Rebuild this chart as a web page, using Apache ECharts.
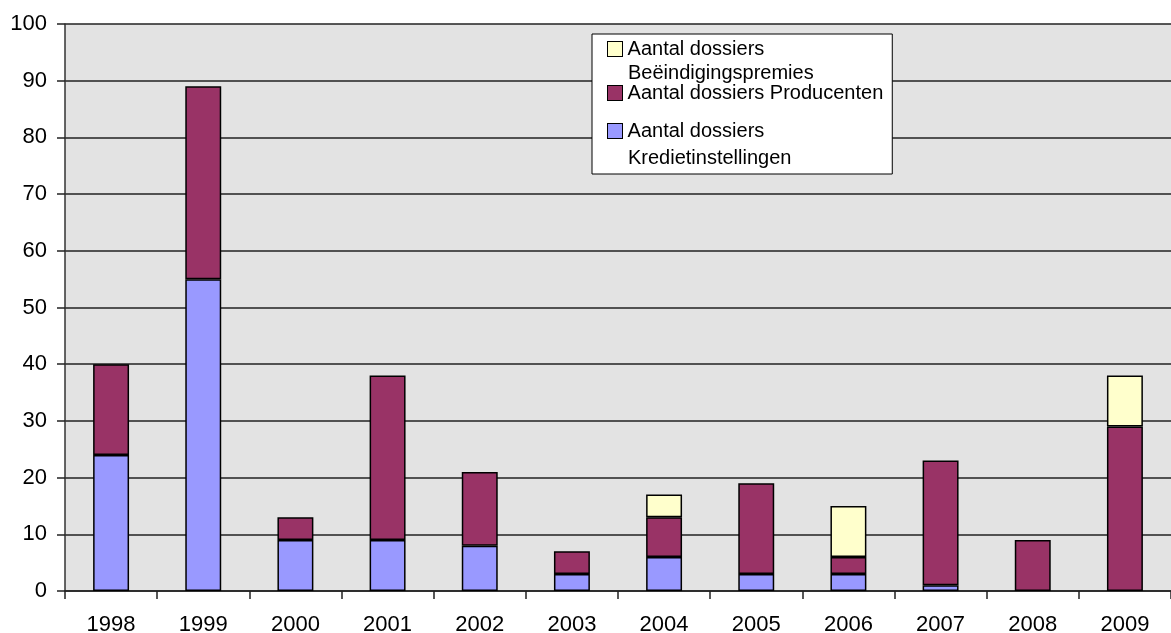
<!DOCTYPE html>
<html>
<head>
<meta charset="utf-8">
<script src="https://cdn.jsdelivr.net/npm/echarts@6/dist/echarts.min.js"></script>
<style>
html,body{margin:0;padding:0;background:#fff;}
#chart{width:1171px;height:633px;}
</style>
</head>
<body>
<div id="chart"></div>
<script>
var categories = ['1998','1999','2000','2001','2002','2003','2004','2005','2006','2007','2008','2009'];
var kredietinstellingen = [24, 55, 9, 9, 8, 3, 6, 3, 3, 1, null, null];
var producenten = [16, 34, 4, 29, 13, 4, 7, 16, 3, 22, 9, 29];
var beeindigingspremies = [null, null, null, null, null, null, 4, null, 9, null, null, 9];
var yTicks = [0, 100, 10];

var nameK = 'Aantal dossiers Kredietinstellingen';
var nameP = 'Aantal dossiers Producenten';
var nameB = 'Aantal dossiers Beëindigingspremies';

var FONT = '"Liberation Sans", Arial, sans-serif';
var chart = echarts.init(document.getElementById('chart'));

function barStyle(c){
  return {color: c, borderColor: '#000', borderWidth: 1.5};
}

chart.setOption({
  animation: false,
  backgroundColor: '#fff',
  grid: {left: 65, right: 0, top: 24, bottom: 42, show: true, backgroundColor: '#e3e3e3', borderWidth: 0, containLabel: false, outerBoundsMode: 'none'},
  legend: {
    orient: 'vertical',
    left: 592, top: 34,
    padding: [5, 9, 6, 10],
    itemGap: 0,
    itemWidth: 0, itemHeight: 0,
    selectedMode: false,
    backgroundColor: '#fff',
    borderColor: '#000', borderWidth: 1,
    data: [nameB, nameP, nameK],
    formatter: function(name){
      if (name === nameB) return '{y| }{t1| Aantal dossiers}\n{ind1| }{t1|Beëindigingspremies}';
      if (name === nameP) return '{m| }{t2| Aantal dossiers Producenten}\n{gap| }';
      return '{b| }{t3| Aantal dossiers}\n{ind3| }{t3|Kredietinstellingen}';
    },
    textStyle: {
      fontFamily: FONT, fontSize: 20, color: '#000',
      rich: {
        t1: {fontFamily: FONT, fontSize: 20, color: '#000', lineHeight: 24},
        t2: {fontFamily: FONT, fontSize: 20, color: '#000', lineHeight: 19},
        t3: {fontFamily: FONT, fontSize: 20, color: '#000', lineHeight: 27},
        gap: {fontSize: 10, lineHeight: 27},
        ind1: {width: 20, lineHeight: 24},
        ind3: {width: 20, lineHeight: 27},
        y: {width: 14, height: 14, backgroundColor: '#ffffcc', borderColor: '#000', borderWidth: 1},
        m: {width: 14, height: 14, backgroundColor: '#993366', borderColor: '#000', borderWidth: 1},
        b: {width: 14, height: 14, backgroundColor: '#9999ff', borderColor: '#000', borderWidth: 1}
      }
    }
  },
  xAxis: {
    type: 'category',
    data: categories,
    boundaryGap: true,
    axisLine: {lineStyle: {color: '#222', width: 1.5}},
    axisTick: {show: true, length: 8, alignWithLabel: false, lineStyle: {color: '#222', width: 1.5}},
    axisLabel: {fontFamily: FONT, fontSize: 22, color: '#000', margin: 23},
    splitLine: {show: false}
  },
  yAxis: {
    type: 'value',
    min: yTicks[0], max: yTicks[1], interval: yTicks[2],
    axisLine: {show: true, lineStyle: {color: '#333', width: 1.5}},
    axisTick: {show: true, length: 8, lineStyle: {color: '#222', width: 1.5}},
    axisLabel: {fontFamily: FONT, fontSize: 22, color: '#000', margin: 18},
    splitLine: {show: true, lineStyle: {color: '#222', width: 1.5}}
  },
  series: [
    {name: nameK, type: 'bar', stack: 'all', data: kredietinstellingen, barWidth: '39%', itemStyle: barStyle('#9999ff')},
    {name: nameP, type: 'bar', stack: 'all', data: producenten, barWidth: '39%', itemStyle: barStyle('#993366')},
    {name: nameB, type: 'bar', stack: 'all', data: beeindigingspremies, barWidth: '39%', itemStyle: barStyle('#ffffcc')}
  ]
});
</script>
</body>
</html>
